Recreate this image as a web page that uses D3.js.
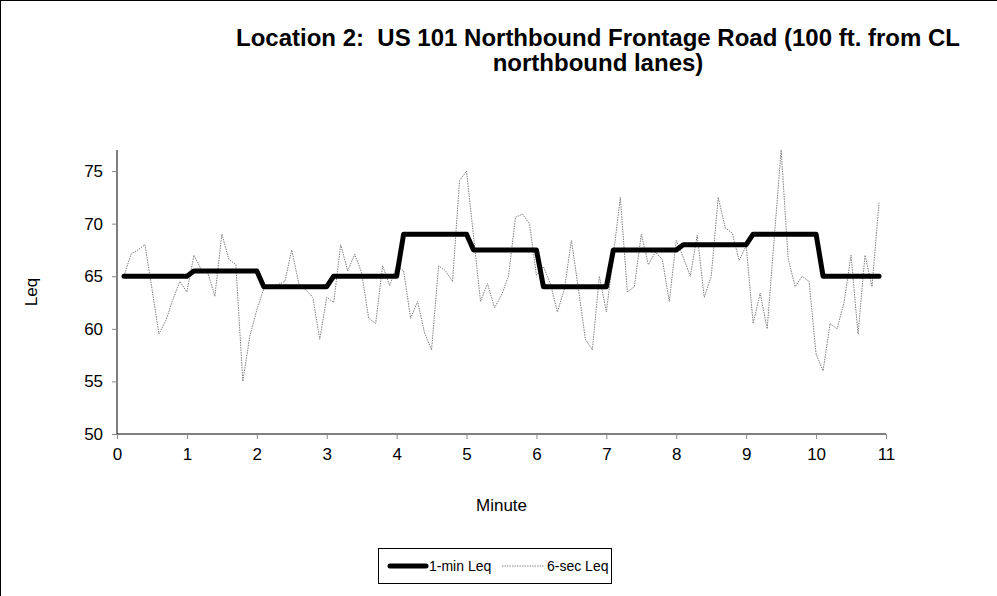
<!DOCTYPE html>
<html><head><meta charset="utf-8">
<script src="https://cdn.jsdelivr.net/npm/d3@7"></script>
<style>body{margin:0;background:#fff}svg{display:block}text{font-family:"Liberation Sans",Arial,sans-serif;white-space:pre}</style>
</head><body>
<svg id="c" width="997" height="596"></svg>
<script>
const titleLines = ["Location 2:  US 101 Northbound Frontage Road (100 ft. from CL", "northbound lanes)"];
const xLabel = "Minute", yLabel = "Leq";
const xTicks = [0,1,2,3,4,5,6,7,8,9,10,11];
const yTicks = [50,55,60,65,70,75];
const seriesNames = ["1-min Leq", "6-sec Leq"];
const times = [0.1,0.2,0.3,0.4,0.5,0.6,0.7,0.8,0.9,1.0,
 1.1,1.2,1.3,1.4,1.5,1.6,1.7,1.8,1.9,2.0,
 2.1,2.2,2.3,2.4,2.5,2.6,2.7,2.8,2.9,3.0,
 3.1,3.2,3.3,3.4,3.5,3.6,3.7,3.8,3.9,4.0,
 4.1,4.2,4.3,4.4,4.5,4.6,4.7,4.8,4.9,5.0,
 5.1,5.2,5.3,5.4,5.5,5.6,5.7,5.8,5.9,6.0,
 6.1,6.2,6.3,6.4,6.5,6.6,6.7,6.8,6.9,7.0,
 7.1,7.2,7.3,7.4,7.5,7.6,7.7,7.8,7.9,8.0,
 8.1,8.2,8.3,8.4,8.5,8.6,8.7,8.8,8.9,9.0,
 9.1,9.2,9.3,9.4,9.5,9.6,9.7,9.8,9.9,10.0,
 10.1,10.2,10.3,10.4,10.5,10.6,10.7,10.8,10.9];
const oneMinLeq = [65,65.5,64,65,69,67.5,64,67.5,68,69,65];
const sixSecLeq = [65,67.1,67.5,68,63.8,59.5,60.8,62.8,64.5,63.5,
 67,65.7,65.3,63.1,69,66.6,66.1,55,59.3,61.8,
 63.8,64,64.2,64.5,67.5,64.3,63.7,63,59,63,
 62.5,68,65.5,67.1,65.3,61,60.5,66,64.1,66,
 65.5,61,62.6,59.6,58,66,65.5,64.5,74.1,75,
 68.8,62.6,64.3,62,63.2,65,70.6,70.9,70,65.1,
 65.9,64.3,61.6,63.8,68.4,63.8,59,58,65,61.6,
 67,72.5,63.5,64,69,66.1,67.3,66.6,62.6,68.4,
 66.8,65,68.9,63,65,72.5,69.6,69.1,66.5,67.9,
 60.5,63.4,60,68.5,77,66.7,64,65,64.5,57.6,
 56,60.5,60,62.5,67,59.5,67,64,72];

const svg = d3.select("#c");
svg.append("rect").attr("x",0.5).attr("y",0.5).attr("width",1200).attr("height",1200)
  .attr("fill","none").attr("stroke","#000");

const L=117, R=886, T=150, B=434;
const x = d3.scaleLinear().domain([0,11]).range([L,R]);
const y = d3.scaleLinear().domain([50,77]).range([B,T]);

// title
svg.append("text").attr("text-anchor","middle")
  .attr("font-size",24).attr("font-weight","bold")
  .selectAll("tspan").data(titleLines).join("tspan")
  .attr("x",598).attr("y",(d,i)=>46+i*25).text(d=>d);

// axes
const xAxis = svg.append("g").attr("transform",`translate(0,${B})`)
  .call(d3.axisBottom(x).tickValues(xTicks).tickSize(5).tickFormat(d3.format("d")));
const yAxis = svg.append("g").attr("transform",`translate(${L},0)`)
  .call(d3.axisLeft(y).tickValues(yTicks).tickSize(5));
[xAxis,yAxis].forEach(g=>{
  g.select(".domain").attr("stroke","#000").attr("stroke-width",1);
  g.selectAll(".tick line").attr("stroke","#888");
  g.selectAll(".tick text").attr("font-size",17).attr("fill","#000")
   .attr("font-family","Liberation Sans, Arial, sans-serif");
});
xAxis.selectAll(".tick text").attr("dy","1.05em");
yAxis.selectAll(".tick text").attr("dx","-0.35em");
yAxis.select(".domain").attr("d",`M0,${B}V${T}`);
xAxis.select(".domain").attr("d",`M${L},0H${R}`);

svg.append("text").attr("x",(L+R)/2).attr("y",511).attr("text-anchor","middle")
  .attr("font-size",17).text(xLabel);
svg.append("text").attr("transform",`translate(37,${(T+B)/2}) rotate(-90)`)
  .attr("text-anchor","middle").attr("font-size",17).text(yLabel);

// data
const pts6 = times.map((t,i)=>({t, v:sixSecLeq[i]}));
const pts1 = times.map(t=>({t, v:oneMinLeq[Math.min(oneMinLeq.length-1, Math.floor(t-0.05))]}));
const line = d3.line().x(d=>x(d.t)).y(d=>y(d.v));
svg.append("path").datum(pts6).attr("d",line).attr("fill","none")
  .attr("stroke","#808080").attr("stroke-width",1).attr("stroke-dasharray","1.5,1");
svg.append("path").datum(pts1).attr("d",line).attr("fill","none")
  .attr("stroke","#000").attr("stroke-width",5).attr("stroke-linejoin","round").attr("stroke-linecap","round");

// legend
const lg = svg.append("g").attr("transform","translate(378,548)");
lg.append("rect").attr("x",0.5).attr("y",0.5).attr("width",233).attr("height",35)
  .attr("fill","#fff").attr("stroke","#000");
lg.append("line").attr("x1",12).attr("x2",48).attr("y1",18).attr("y2",18)
  .attr("stroke","#000").attr("stroke-width",5).attr("stroke-linecap","round");
lg.append("text").attr("x",51).attr("y",23).attr("font-size",14).text(seriesNames[0]);
lg.append("line").attr("x1",124).attr("x2",166).attr("y1",18).attr("y2",18)
  .attr("stroke","#888").attr("stroke-width",1).attr("stroke-dasharray","1.5,1");
lg.append("text").attr("x",169).attr("y",23).attr("font-size",14).text(seriesNames[1]);
</script>
</body></html>
